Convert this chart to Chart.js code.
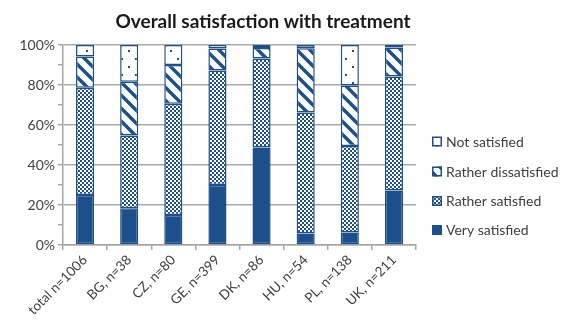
<!DOCTYPE html>
<html>
<head>
<meta charset="utf-8">
<script src="https://cdn.jsdelivr.net/npm/chart.js@4/dist/chart.umd.min.js"></script>
<style>
html,body{margin:0;padding:0;background:#fff;}
#wrap{width:580px;height:327px;position:relative;}
</style>
</head>
<body>
<div id="wrap"><canvas id="c" width="580" height="327"></canvas></div>
<script>
const chartTitle = 'Overall satisfaction with treatment';
const categories = ['total n=1006','BG, n=38','CZ, n=80','GE, n=399','DK, n=86','HU, n=54','PL, n=138','UK, n=211'];
const verySatisfied      = [25.0, 18.4, 15.0, 30.0, 48.8, 5.8, 6.2, 27.2];
const ratherSatisfied    = [53.6, 36.4, 55.6, 57.2, 44.5, 60.4, 43.3, 57.0];
const ratherDissatisfied = [15.6, 26.8, 19.4, 11.1, 5.2, 32.2, 30.2, 14.6];
const notSatisfied       = [5.8, 18.4, 10.0, 1.7, 1.5, 1.6, 20.3, 1.2];
const seriesLabels = ['Very satisfied','Rather satisfied','Rather dissatisfied','Not satisfied'];
const yTicks = [0,20,40,60,80,100];

const BLUE = '#1d4f8b';
const FONT = 'Lato, "Open Sans", sans-serif';

function makePattern(kind){
  const c = document.createElement('canvas');
  const ctx = c.getContext('2d');
  if(kind==='checker'){
    c.width=4;c.height=4;
    ctx.fillStyle='#ffffff';ctx.fillRect(0,0,4,4);
    ctx.fillStyle=BLUE;
    ctx.fillRect(0,0,2,2);ctx.fillRect(2,2,2,2);
  } else if(kind==='stripes'){
    const s=13;
    c.width=s;c.height=s;
    ctx.fillStyle='#ffffff';ctx.fillRect(0,0,s,s);
    ctx.strokeStyle=BLUE;ctx.lineWidth=3.4;
    ctx.beginPath();
    ctx.moveTo(-2,-2);ctx.lineTo(s+2,s+2);
    ctx.moveTo(-2-s,-2);ctx.lineTo(2,s+2);
    ctx.moveTo(s-2,-2);ctx.lineTo(2*s+2,s+2);
    ctx.stroke();
  } else if(kind==='dots'){
    c.width=14;c.height=16;
    ctx.fillStyle='#ffffff';ctx.fillRect(0,0,14,16);
    ctx.fillStyle=BLUE;
    ctx.fillRect(2,2,2,2);
    ctx.fillRect(9,10,2,2);
  }
  return document.getElementById('c').getContext('2d').createPattern(c,'repeat');
}

const fills = [BLUE, makePattern('checker'), makePattern('stripes'), makePattern('dots')];
const seriesData = [verySatisfied, ratherSatisfied, ratherDissatisfied, notSatisfied];

const datasets = seriesLabels.map((lab,i)=>({
  label: lab,
  data: seriesData[i],
  backgroundColor: fills[i],
  borderColor: BLUE,
  borderWidth: 1.5,
  borderSkipped: false,
  barPercentage: 0.41,
  categoryPercentage: 1.0
}));

const titlePlugin = {
  id:'customTitle',
  afterDraw(chart){
    const ctx=chart.ctx;
    ctx.save();
    ctx.font='bold 19px '+FONT;
    ctx.fillStyle='#1a1a1a';
    ctx.textAlign='center';
    ctx.textBaseline='alphabetic';
    ctx.fillText(chartTitle, 263, 28);
    ctx.restore();
  }
};

const legendPlugin = {
  id:'customLegend',
  afterDraw(chart){
    const ctx=chart.ctx;
    ctx.save();
    const order=[3,2,1,0];
    const ys=[141.5,171.5,201,230];
    order.forEach((di,k)=>{
      const ds=chart.data.datasets[di];
      const y=ys[k];
      const bx=432, bs=10;
      ctx.fillStyle=ds.backgroundColor;
      ctx.fillRect(bx, y-bs/2, bs, bs);
      ctx.strokeStyle=BLUE;ctx.lineWidth=1.5;
      ctx.strokeRect(bx+0.75, y-bs/2+0.75, bs-1.5, bs-1.5);
      ctx.fillStyle='#404040';
      ctx.font='14px '+FONT;
      ctx.textAlign='left';ctx.textBaseline='middle';
      ctx.fillText(ds.label, 446, y+0.5);
    });
    ctx.restore();
  }
};

new Chart(document.getElementById('c'), {
  type:'bar',
  data:{labels:categories, datasets},
  options:{
    responsive:false,
    animation:false,
    layout:{padding:{left:0,top:45,right:164,bottom:0}},
    plugins:{legend:{display:false},title:{display:false},tooltip:{enabled:false}},
    scales:{
      x:{
        stacked:true,
        offset:true,
        grid:{display:true,drawOnChartArea:false,offset:true,tickLength:5,color:'#a6a6a6',lineWidth:1.5},
        border:{display:true,color:'#a6a6a6',width:1.5},
        ticks:{color:'#404040',font:{family:FONT,size:13.5},minRotation:45,maxRotation:45,padding:2,autoSkip:false},
        afterFit(s){s.height=82;}
      },
      y:{
        stacked:true,
        min:0,max:100,
        ticks:{stepSize:10,color:'#404040',font:{family:FONT,size:14},padding:3,
          callback:(v)=> yTicks.includes(v) ? v+'%' : ''},
        grid:{tickLength:5,lineWidth:1.5,
          color:(ctx)=> (ctx.tick && yTicks.includes(ctx.tick.value)) ? '#a9a9a9' : 'rgba(0,0,0,0)',
          tickColor:'#a6a6a6'},
        border:{display:true,color:'#a6a6a6',width:1.5},
        afterFit(s){s.width=63;}
      }
    }
  },
  plugins:[titlePlugin, legendPlugin]
});
</script>
</body>
</html>
